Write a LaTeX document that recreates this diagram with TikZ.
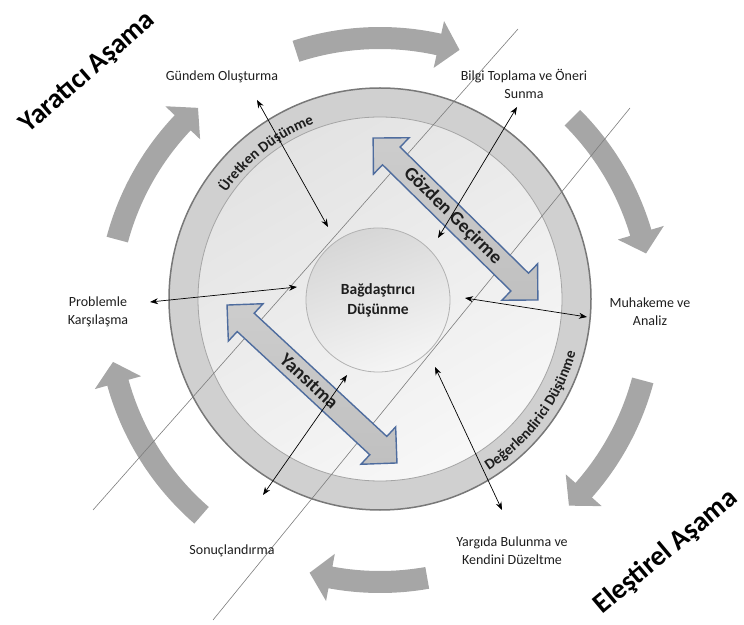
\documentclass[tikz,border=0pt]{standalone}
\usepackage{fontspec}
\setmainfont{Carlito}
\usetikzlibrary{arrows.meta,decorations.text,calc}
\definecolor{arrgray}{RGB}{166,166,166}
\definecolor{ringfill}{RGB}{208,208,208}
\definecolor{ringline}{RGB}{120,120,120}
\definecolor{innerline}{RGB}{165,165,165}
\definecolor{blockblue}{RGB}{78,108,158}
\definecolor{blockfill}{RGB}{192,192,192}
\definecolor{diagline}{RGB}{125,125,125}
\definecolor{txt}{RGB}{30,30,30}
\newcommand{\cycarrow}[2]{%
  \pgfmathsetmacro{\hb}{#2+4.5}%
  \fill[arrgray] ([shift={(AC)}]#1:283pt) arc[start angle=#1, end angle=\hb, radius=283pt]
    -- ([shift={(AC)}]\hb:296pt) -- ([shift={(AC)}]#2:272pt) -- ([shift={(AC)}]\hb:248pt)
    -- ([shift={(AC)}]\hb:261pt) arc[start angle=\hb, end angle=#1, radius=261pt] -- cycle;}
\begin{document}
\begin{tikzpicture}[x=1pt,y=1pt,
  lbl/.style={font=\fontsize{14}{18}\selectfont, align=center, text=txt},
  title/.style={font=\bfseries\fontsize{28}{30}\selectfont, text=black},
  link/.style={{Stealth[length=8pt,width=6pt]}-{Stealth[length=8pt,width=6pt]}, line width=0.7pt, draw=black},
  diag/.style={draw=diagline, line width=0.6pt},
  blockarrow/.style={draw=blockblue, line width=1.4pt, top color=blockfill!80!white, bottom color=blockfill},
  blocktext/.style={font=\bfseries\fontsize{19}{19}\selectfont, text=txt, inner sep=0pt},
  ringtext/.style={decorate, decoration={text along path, text align=center,
     text={|\bfseries\fontsize{15}{15}\selectfont\color{txt}|#1}}}
]
\useasboundingbox (0,0) rectangle (744,624);
\coordinate (AC) at (380,314);
\coordinate (O) at (380,325);

% cycle arrows
\cycarrow{108}{73}
\cycarrow{45}{12}
\cycarrow{-15}{-46}
\cycarrow{-80}{-105}
\cycarrow{-131}{-169}
\cycarrow{165}{132}

% circles
\node[circle, inner sep=0pt, minimum size=422pt, fill=ringfill, draw=ringline, line width=1.5pt] (outer) at (O) {};
\node[circle, inner sep=0pt, minimum size=364pt, top color=black!11, bottom color=black!3, shading angle=30, draw=innerline, line width=0.8pt] (inner) at (O) {};

% diagonal lines
\coordinate (l1a) at (518,595);
\coordinate (l1b) at (93,114);
\coordinate (l2a) at (630,516);
\coordinate (l2b) at (213,4);
\draw[diag] (l1a) -- (l1b);
\draw[diag] (l2a) -- (l2b);

% central circle
\node[circle, inner sep=0pt, minimum size=144pt, top color=black!16, bottom color=black!4, shading angle=20, draw=black!30, line width=0.8pt,
      font=\bfseries\fontsize{15.5}{20}\selectfont, align=center, text=txt] (core) at (378,324) {Bağdaştırıcı\\Düşünme};

% ring texts
\path[ringtext={Üretken Düşünme}] ([shift={(O)}]168:187pt) arc[start angle=168, end angle=88, radius=187pt];
\path[ringtext={Değerlendirici Düşünme}] ([shift={(O)}]-80:203pt) arc[start angle=-80, end angle=7, radius=203pt];

% block double arrows
\begin{scope}[shift={(455.5,405)}, rotate=-44.5]
  \draw[blockarrow] (115.5,0) -- (90,25.5) -- (90,12.5) -- (-90,12.5) -- (-90,25.5) -- (-115.5,0)
     -- (-90,-25.5) -- (-90,-12.5) -- (90,-12.5) -- (90,-25.5) -- cycle;
  \node[blocktext, transform shape] (gozden) at (-4,0) {Gözden Geçirme};
\end{scope}
\begin{scope}[shift={(312,240)}, rotate=-42.9]
  \draw[blockarrow] (116,0) -- (90.5,25.5) -- (90.5,12.5) -- (-90.5,12.5) -- (-90.5,25.5) -- (-116,0)
     -- (-90.5,-25.5) -- (-90.5,-12.5) -- (90.5,-12.5) -- (90.5,-25.5) -- cycle;
  \node[blocktext, transform shape] (yansitma) at (-4,0) {Yansıtma};
\end{scope}

% labels
\node[lbl] (gundem) at (222,547) {Gündem Oluşturma};
\node[lbl] (bilgi) at (524,540) {Bilgi Toplama ve Öneri\\Sunma};
\node[lbl] (muhakeme) at (650,312) {Muhakeme ve\\Analiz};
\node[lbl] (yargi) at (512,73) {Yargıda Bulunma ve\\Kendini Düzeltme};
\node[lbl] (sonuc) at (232,73) {Sonuçlandırma};
\node[lbl] (problem) at (98,312) {Problemle\\Karşılaşma};

% titles
\node[title, rotate=41] (yaratici) at (88,551) {Yaratıcı Aşama};
\node[title, rotate=40] (elestirel) at (666,72) {Eleştirel Aşama};

% link arrows
\coordinate (g1) at (257,524); \coordinate (g2) at (328,397);
\coordinate (b1) at (517,517); \coordinate (b2) at (438,386);
\coordinate (m1) at (587,307); \coordinate (m2) at (465,326);
\coordinate (y1) at (502,114); \coordinate (y2) at (435,257);
\coordinate (s1) at (263,129); \coordinate (s2) at (347,249);
\coordinate (p1) at (150,322); \coordinate (p2) at (297,337);
\draw[link] (g1) -- (g2);
\draw[link] (b1) -- (b2);
\draw[link] (m1) -- (m2);
\draw[link] (y1) -- (y2);
\draw[link] (s1) -- (s2);
\draw[link] (p1) -- (p2);
\end{tikzpicture}
\end{document}
